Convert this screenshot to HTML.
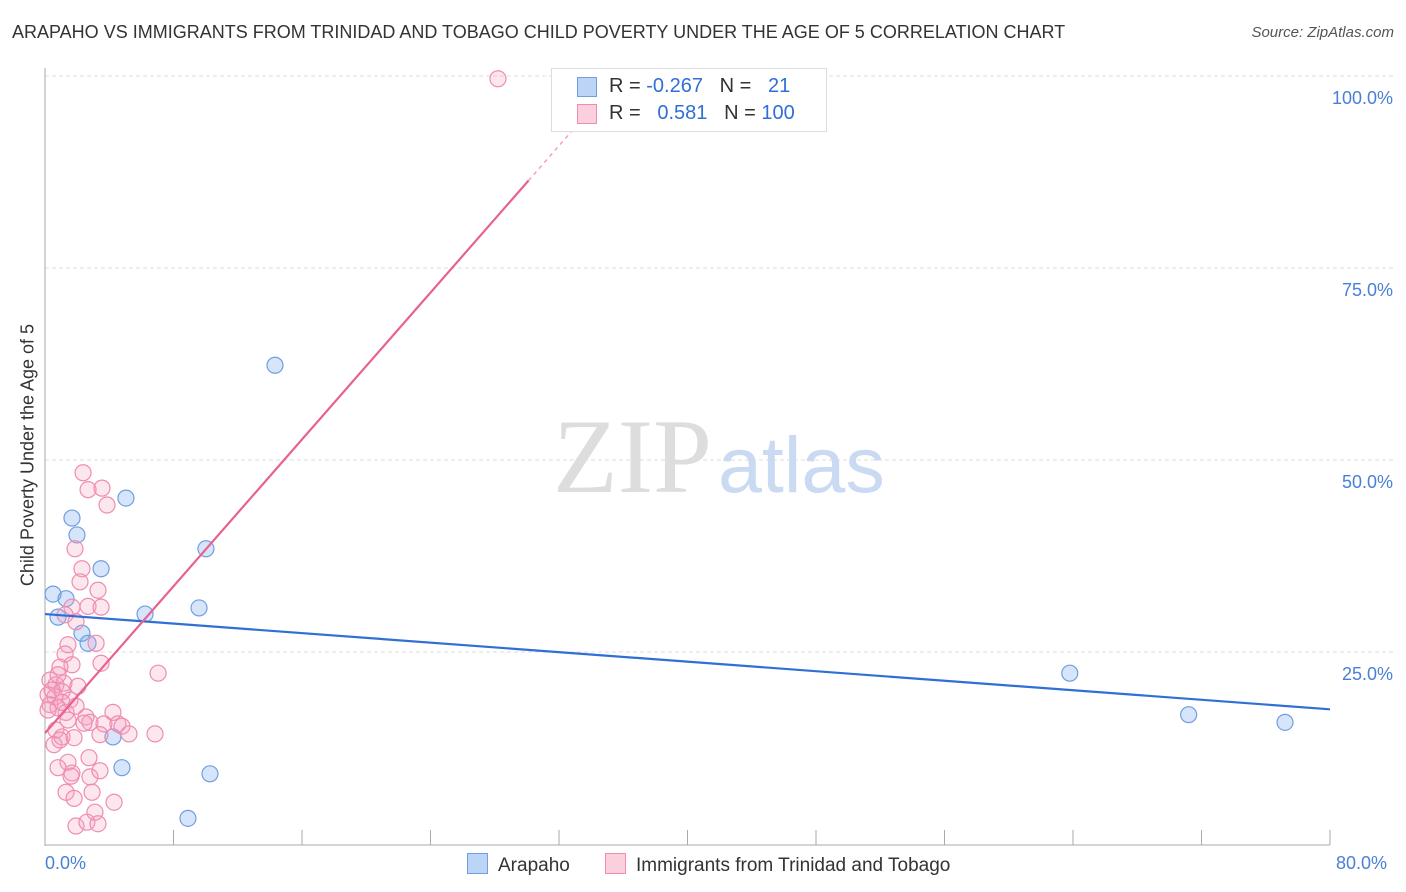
<!DOCTYPE html>
<html><head><meta charset="utf-8"><style>
body{margin:0;background:#fff;font-family:"Liberation Sans",sans-serif}
#wrap{position:relative;width:1406px;height:892px;overflow:hidden}
.t{position:absolute;white-space:nowrap}
</style></head><body>
<div id="wrap">
<div class="t" style="left:12px;top:22px;font-size:18px;color:#333">ARAPAHO VS IMMIGRANTS FROM TRINIDAD AND TOBAGO CHILD POVERTY UNDER THE AGE OF 5 CORRELATION CHART</div>
<div class="t" style="right:12px;top:24px;font-size:15px;color:#555;font-style:italic">Source: ZipAtlas.com</div>
<svg id="svg" width="1406" height="892" style="position:absolute;left:0;top:0"></svg>
</div>
<script>
const yTicks=[25,50,75,100];
const yTickLabels=["25.0%","50.0%","75.0%","100.0%"];
const xTickCount=10;
const blueX=[0.50,0.81,1.31,1.68,1.99,2.30,2.68,3.49,4.23,4.79,5.04,6.23,8.90,9.59,10.02,10.27,14.32,63.8,71.2,77.2];
const blueY=[32.8,29.8,32.2,42.7,40.5,27.7,26.4,36.1,14.2,10.2,45.3,30.2,3.6,31.0,38.7,9.4,62.6,22.5,17.1,16.1];
const pinkX=[28.2,2.37,2.68,3.55,3.86,1.87,2.30,2.18,3.30,1.68,2.68,3.49,1.25,1.93,1.43,3.18,1.25,1.68,3.49,0.93,0.31,0.68,1.18,2.05,7.04,0.19,0.62,1.06,1.56,0.31,0.81,1.31,0.19,1.93,2.55,4.23,2.80,3.67,4.54,4.79,0.68,1.06,1.81,3.42,5.23,6.85,0.56,1.43,2.74,0.81,1.68,2.80,3.42,1.31,1.81,2.93,4.30,1.93,2.61,3.30,3.11,0.93,0.44,0.81,1.06,1.43,2.43,1.62];
const pinkY=[99.9,48.6,46.4,46.6,44.4,38.7,36.1,34.4,33.3,31.1,31.2,31.1,30.1,29.2,26.2,26.4,25.0,23.6,23.8,23.3,21.6,21.0,21.2,20.8,22.5,19.7,19.4,20.1,19.0,18.4,18.0,17.4,17.7,18.2,16.8,17.4,16.1,15.9,15.9,15.6,15.1,14.2,14.1,14.5,14.6,14.6,13.2,10.9,11.5,10.2,9.5,9.0,9.8,7.0,6.2,7.0,5.7,2.6,3.1,2.9,4.4,13.8,20.3,22.3,18.7,16.4,16.0,9.1];
const blueTrend=[30.2,17.8];
const pinkTrend=[14.7,2.39];
const X=v=>45+v/80*1285, Y=v=>846-v/100*768;
const svg=document.getElementById('svg');
function mk(tag,a,name){const e=document.createElementNS('http://www.w3.org/2000/svg',tag);for(const k in a)e.setAttribute(k,a[k]);


svg.appendChild(e);return e;}
yTicks.forEach((t,i)=>{mk('line',{x1:45,x2:1393,y1:Y(t)-2,y2:Y(t)-2,stroke:'#ddd','stroke-dasharray':'4,3'},'gridline');
const tx=mk('text',{x:1393,y:Y(t)+26,'text-anchor':'end','font-size':18,fill:'#4a7fd6','font-family':'Liberation Sans'},'y-tick-label');tx.textContent=yTickLabels[i];});
mk('line',{x1:45,x2:45,y1:68,y2:846,stroke:'#aaa'},'y-axis');
mk('line',{x1:45,x2:1330,y1:845,y2:845,stroke:'#aaa'},'x-axis');
for(let i=0;i<=xTickCount;i++){const x=X(i*8);mk('line',{x1:x,x2:x,y1:830,y2:845,stroke:'#aaa'},'x-tick');}
const w1=mk('text',{x:553,y:492,'font-size':106,fill:'#ddd','font-family':'Liberation Serif'},'watermark-zip');w1.textContent='ZIP';
const w2=mk('text',{x:718,y:492,'font-size':79,fill:'#c9daf2','font-family':'Liberation Sans'},'watermark-atlas');w2.textContent='atlas';
blueX.forEach((v,i)=>mk('circle',{cx:X(v),cy:Y(blueY[i]),r:8,fill:'rgba(120,170,235,0.3)',stroke:'#6f9fe0','stroke-width':1.2},'arapaho-point'));
pinkX.forEach((v,i)=>mk('circle',{cx:X(v),cy:Y(pinkY[i]),r:8,fill:'rgba(245,160,190,0.25)',stroke:'#f08cb0','stroke-width':1.2},'trinidad-point'));
mk('line',{x1:X(0),y1:Y(blueTrend[0]),x2:X(80),y2:Y(blueTrend[1]),stroke:'#2f6fd6','stroke-width':2.2},'arapaho-trendline');
mk('line',{x1:X(0),y1:Y(pinkTrend[0]),x2:X(30.1),y2:Y(pinkTrend[0]+pinkTrend[1]*30.1),stroke:'#e8628f','stroke-width':2.2},'trinidad-trendline');
mk('line',{x1:X(30.1),y1:Y(pinkTrend[0]+pinkTrend[1]*30.1),x2:X(33),y2:Y(pinkTrend[0]+pinkTrend[1]*33),stroke:'#f0a0bc','stroke-width':1.5,'stroke-dasharray':'4,4'},'trinidad-trendline-dashed');
</script>
<div class="t" style="left:551px;top:68px;width:274px;height:62px;border:1px solid #ddd;background:#fff;font-size:20px;color:#333">
<div style="position:absolute;left:25px;top:8px;width:18px;height:18px;background:#bcd4f5;border:1px solid #6f9fe0"></div>
<div class="t" style="left:57px;top:6px">R = <span style="color:#2f6fd6">-0.267</span>&nbsp;&nbsp;&nbsp;N = &nbsp;&nbsp;<span style="color:#2f6fd6">21</span></div>
<div style="position:absolute;left:25px;top:35px;width:18px;height:18px;background:#fbd0dc;border:1px solid #f08cb0"></div>
<div class="t" style="left:57px;top:33px">R = &nbsp;&nbsp;<span style="color:#2f6fd6">0.581</span>&nbsp;&nbsp;&nbsp;N = <span style="color:#2f6fd6">100</span></div>
</div>
<div class="t" style="left:28px;top:455px;font-size:18px;color:#333;transform:translate(-50%,-50%) rotate(-90deg)">Child Poverty Under the Age of 5</div>
<div class="t" style="left:45px;top:853px;font-size:18px;color:#4a7fd6">0.0%</div>
<div class="t" style="left:1336px;top:853px;font-size:18px;color:#4a7fd6">80.0%</div>
<div class="t" style="left:467px;top:853px;font-size:19px;color:#333"><span style="display:inline-block;width:19px;height:19px;background:#bcd4f5;border:1px solid #6f9fe0;vertical-align:-3px;margin-right:10px"></span>Arapaho</div>
<div class="t" style="left:605px;top:853px;font-size:19px;color:#333"><span style="display:inline-block;width:19px;height:19px;background:#fbd0dc;border:1px solid #f08cb0;vertical-align:-3px;margin-right:10px"></span>Immigrants from Trinidad and Tobago</div>
</body></html>
